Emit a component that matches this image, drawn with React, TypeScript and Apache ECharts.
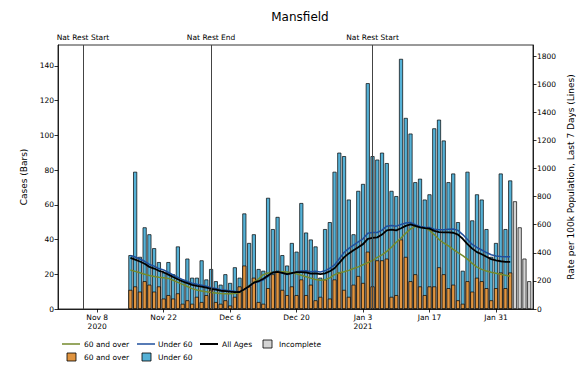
import React, { useEffect, useRef } from "react";
import * as echarts from "echarts";

// ---- data ----
const CASES_START = "2020-11-15";
const casesOver60 = [
  11, 13, 10, 16, 14, 10, 13, 6, 8, 6,
  9, 3, 5, 3, 7, 4, 8, 11, 4, 3,
  5, 2, 7, 13, 25, 13, 18, 4, 3, 12,
  20, 22, 11, 8, 13, 8, 17, 8, 14, 5,
  7, 17, 6, 17, 21, 11, 7, 14, 19, 15,
  33, 13, 28, 28, 29, 7, 8, 40, 30, 16,
  20, 13, 8, 13, 13, 24, 20, 12, 14, 5,
  3, 16, 10, 18, 16, 12, 5, 12, 21, 12,
  21,
];
const casesUnder60 = [
  20, 66, 20, 31, 29, 25, 14, 15, 19, 14,
  27, 14, 24, 15, 11, 24, 9, 12, 12, 11,
  15, 13, 17, 5, 30, 25, 25, 19, 19, 52,
  26, 31, 20, 17, 25, 25, 44, 36, 26, 31,
  11, 29, 44, 62, 69, 77, 56, 29, 49, 57,
  97, 75, 58, 62, 55, 61, 57, 104, 80, 85,
  53, 62, 55, 53, 91, 85, 77, 61, 64, 45,
  19, 63, 41, 48, 47, 34, 25, 26, 57, 34,
  53,
];
const INCOMPLETE_START = "2021-02-04";
const casesIncomplete = [62, 47, 29, 16];

const RATES_START = "2020-11-15";
const rateOver60 = [
  278, 268, 258, 248, 238, 232, 226, 222, 218, 205,
  190, 175, 160, 145, 135, 128, 122, 118, 114, 110,
  108, 108, 110, 118, 140, 165, 190, 215, 245, 256,
  260, 264, 266, 263, 258, 250, 240, 230, 220, 210,
  205, 208, 222, 245, 258, 265, 275, 288, 300, 315,
  330, 345, 368, 385, 410, 440, 475, 505, 540, 570,
  588, 585, 578, 560, 530, 495, 470, 450, 425, 402,
  380, 355, 325, 298, 282, 270, 262, 255, 248, 240,
  233,
];
const rateUnder60 = [
  382, 370, 356, 340, 318, 305, 288, 278, 260, 242,
  225, 208, 196, 184, 176, 170, 162, 152, 146, 138,
  134, 130, 126, 123, 140, 160, 186, 194, 208, 232,
  260, 264, 256, 245, 254, 266, 270, 272, 266, 268,
  264, 272, 290, 314, 358, 402, 432, 455, 478, 500,
  540, 545, 545, 562, 590, 595, 590, 602, 612, 616,
  600, 588, 582, 580, 568, 565, 565, 568, 570, 560,
  530, 495, 460, 438, 420, 402, 386, 378, 374, 372,
  372,
];
const rateAllAges = [
  364, 352, 338, 322, 300, 288, 272, 262, 245, 228,
  212, 196, 184, 172, 165, 160, 152, 143, 138, 130,
  127, 123, 120, 121, 140, 162, 188, 198, 215, 238,
  260, 264, 257, 248, 255, 262, 262, 260, 252, 253,
  248, 254, 269, 290, 328, 368, 396, 419, 440, 462,
  500, 506, 510, 530, 560, 565, 560, 575, 592, 602,
  592, 582, 576, 572, 556, 548, 545, 545, 543, 530,
  500, 462, 430, 405, 390, 372, 355, 346, 340, 336,
  336,
];

const tickDates = ["2020-11-08", "2020-11-22", "2020-12-06", "2020-12-20", "2021-01-03", "2021-01-17", "2021-01-31"];
const tickLabels = ["Nov 8\n2020", "Nov 22", "Dec 6", "Dec 20", "Jan 3\n2021", "Jan 17", "Jan 31"];
const restDates = ["2020-11-05", "2020-12-02", "2021-01-05"];
const restLabels = ["Nat Rest Start", "Nat Rest End", "Nat Rest Start"];
const leftTicks = [0, 20, 40, 60, 80, 100, 120, 140];
const rightTicks = [0, 200, 400, 600, 800, 1000, 1200, 1400, 1600, 1800];
const X_MIN_DATE = "2020-10-30";
const X_MAX_DATE = "2021-02-07";

// ---- helpers ----
const REF = Date.UTC(2020, 10, 8);
const dayOf = (s: string) => {
  const [y, m, d] = s.split("-").map(Number);
  return (Date.UTC(y, m - 1, d) - REF) / 86400000;
};
const series2 = (start: string, vals: number[]) => {
  const d0 = dayOf(start);
  return vals.map((v, i) => [d0 + i, v]);
};

const FONT = "DejaVu Sans";
const C_ORANGE = "#e0943f";
const C_BLUE = "#55b1d6";
const C_GREY = "#d4d4d4";
const C_OLIVE = "#748a2c";
const C_NAVY = "#1f4f9c";

export default function App() {
  const ref = useRef<HTMLDivElement>(null);
  useEffect(() => {
    document.body.style.margin = "0";
    const chart = echarts.init(ref.current!, null, { renderer: "svg" });
    const tickVals = tickDates.map(dayOf);
    const labelFor = (v: number) => {
      const i = tickVals.findIndex((t) => Math.abs(t - v) < 1e-6);
      return i >= 0 ? tickLabels[i] : "";
    };
    const totals = casesOver60.map((v, i) => v + casesUnder60[i]);
    const small = { fontFamily: FONT, fontSize: 7.5, color: "#000" };
    const barBase = { type: "bar", barWidth: 4, barGap: "-100%" };
    const option: any = {
      animation: false,
      backgroundColor: "#fff",
      textStyle: { fontFamily: FONT },
      title: {
        text: "Mansfield",
        left: 295,
        textAlign: "center",
        top: 6,
        textStyle: { fontFamily: FONT, fontSize: 12, fontWeight: "normal", color: "#000" },
      },
      grid: {
        left: 58, right: 43, top: 45, bottom: 57,
        containLabel: false, outerBoundsMode: "none",
        show: true, borderColor: "#000", borderWidth: 0.8, backgroundColor: "transparent",
      },
      xAxis: {
        type: "value",
        min: dayOf(X_MIN_DATE) + 0.75,
        max: dayOf(X_MAX_DATE) + 0.8,
        splitLine: { show: false },
        axisLine: { show: true, onZero: false, lineStyle: { color: "#000", width: 0.8 } },
        axisTick: { show: true, customValues: tickVals, length: 3.5, lineStyle: { color: "#000", width: 0.8 } },
        axisLabel: { ...small, customValues: tickVals, formatter: labelFor, margin: 4, lineHeight: 9 },
      },
      yAxis: [
        {
          type: "value",
          min: 0,
          max: 152,
          name: "Cases (Bars)",
          nameLocation: "middle",
          nameRotate: 90,
          nameGap: 28,
          nameTextStyle: { fontFamily: FONT, fontSize: 9, color: "#000" },
          splitLine: { show: false },
          axisLine: { show: true, onZero: false, lineStyle: { color: "#000", width: 0.8 } },
          axisTick: { show: true, customValues: leftTicks, length: 3.5, lineStyle: { color: "#000", width: 0.8 } },
          axisLabel: { ...small, customValues: leftTicks, margin: 4, formatter: (v: number) => String(v) },
        },
        {
          type: "value",
          position: "right",
          min: 0,
          max: 1880,
          name: "Rate per 100k Population, Last 7 Days (Lines)",
          nameLocation: "middle",
          nameRotate: 90,
          nameGap: 28,
          nameTextStyle: { fontFamily: FONT, fontSize: 9, color: "#000" },
          splitLine: { show: false },
          axisLine: { show: true, onZero: false, lineStyle: { color: "#000", width: 0.8 } },
          axisTick: { show: true, customValues: rightTicks, length: 3.5, lineStyle: { color: "#000", width: 0.8 } },
          axisLabel: { ...small, customValues: rightTicks, margin: 4, formatter: (v: number) => String(v) },
        },
      ],
      series: [
        {
          ...barBase,
          name: "Under 60",
          data: series2(CASES_START, totals),
          itemStyle: { color: C_BLUE, borderColor: "#000", borderWidth: 0.7 },
          markLine: {
            silent: true,
            symbol: ["none", "none"],
            lineStyle: { color: "#444", width: 1, type: "solid" },
            label: { show: true, position: "end", formatter: "{b}", ...small, distance: 4 },
            data: restDates.map((d, i) => ({ name: restLabels[i], xAxis: dayOf(d) })),
          },
        },
        {
          ...barBase,
          name: "60 and over",
          data: series2(CASES_START, casesOver60),
          itemStyle: { color: C_ORANGE, borderColor: "#000", borderWidth: 0.7 },
        },
        {
          ...barBase,
          name: "Incomplete",
          data: series2(INCOMPLETE_START, casesIncomplete),
          itemStyle: { color: C_GREY, borderColor: "#000", borderWidth: 0.7 },
        },
        {
          name: "60 and over rate",
          type: "line",
          yAxisIndex: 1,
          showSymbol: false,
          symbol: "none",
          data: series2(RATES_START, rateOver60),
          lineStyle: { color: C_OLIVE, width: 1.5 },
        },
        {
          name: "Under 60 rate",
          type: "line",
          yAxisIndex: 1,
          showSymbol: false,
          symbol: "none",
          data: series2(RATES_START, rateUnder60),
          lineStyle: { color: C_NAVY, width: 1.5 },
        },
        {
          name: "All Ages rate",
          type: "line",
          yAxisIndex: 1,
          showSymbol: false,
          symbol: "none",
          data: series2(RATES_START, rateAllAges),
          lineStyle: { color: "#000", width: 1.8 },
        },
      ],
      graphic: [
        { type: "line", shape: { x1: 62, y1: 344, x2: 80, y2: 344 }, style: { stroke: C_OLIVE, lineWidth: 1.5 } },
        { type: "text", x: 84, y: 344, style: { text: "60 and over", fontFamily: FONT, fontSize: 7.5, fill: "#000", verticalAlign: "middle" } },
        { type: "line", shape: { x1: 137, y1: 344, x2: 155, y2: 344 }, style: { stroke: C_NAVY, lineWidth: 1.5 } },
        { type: "text", x: 158, y: 344, style: { text: "Under 60", fontFamily: FONT, fontSize: 7.5, fill: "#000", verticalAlign: "middle" } },
        { type: "line", shape: { x1: 200, y1: 344, x2: 218, y2: 344 }, style: { stroke: "#000", lineWidth: 2 } },
        { type: "text", x: 222, y: 344, style: { text: "All Ages", fontFamily: FONT, fontSize: 7.5, fill: "#000", verticalAlign: "middle" } },
        { type: "rect", shape: { x: 263, y: 340, width: 9, height: 8 }, style: { fill: C_GREY, stroke: "#000", lineWidth: 0.8 } },
        { type: "text", x: 279, y: 344, style: { text: "Incomplete", fontFamily: FONT, fontSize: 7.5, fill: "#000", verticalAlign: "middle" } },
        { type: "rect", shape: { x: 67, y: 353, width: 9, height: 8 }, style: { fill: C_ORANGE, stroke: "#000", lineWidth: 0.8 } },
        { type: "text", x: 84, y: 357, style: { text: "60 and over", fontFamily: FONT, fontSize: 7.5, fill: "#000", verticalAlign: "middle" } },
        { type: "rect", shape: { x: 142, y: 353, width: 9, height: 8 }, style: { fill: C_BLUE, stroke: "#000", lineWidth: 0.8 } },
        { type: "text", x: 158, y: 357, style: { text: "Under 60", fontFamily: FONT, fontSize: 7.5, fill: "#000", verticalAlign: "middle" } },
      ],
    };
    chart.setOption(option);
    return () => chart.dispose();
  }, []);
  return <div ref={ref} style={{ width: 576, height: 366 }} />;
}
